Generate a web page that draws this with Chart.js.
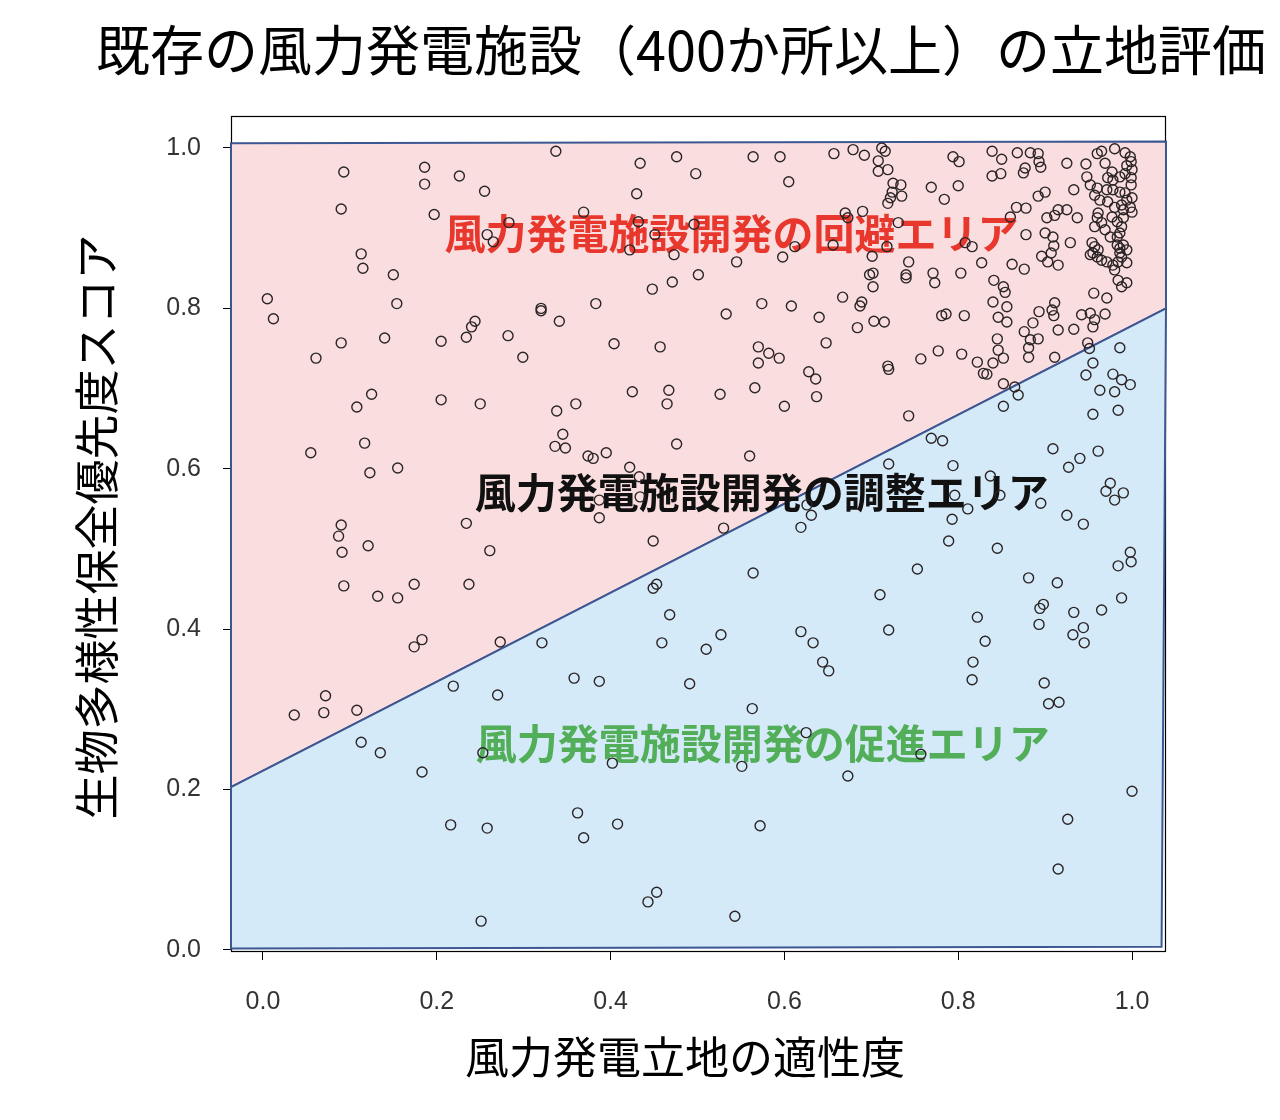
<!DOCTYPE html>
<html><head><meta charset="utf-8">
<script src="https://cdn.jsdelivr.net/npm/chart.js@4/dist/chart.umd.min.js"></script>
<style>html,body{margin:0;padding:0;background:#fff}#wrap{width:1280px;height:1120px}</style>
</head><body><div id="wrap"><canvas id="c" width="1280" height="1120"></canvas></div>
<script>
const chartTitle = '既存の風力発電施設（400か所以上）の立地評価';
const xAxisTitle = '風力発電立地の適性度';
const yAxisTitle = '生物多様性保全優先度スコア';
const tickValues = [0, 0.2, 0.4, 0.6, 0.8, 1.0];
const zoneLabels = ['風力発電施設開発の回避エリア', '風力発電施設開発の調整エリア', '風力発電施設開発の促進エリア'];

// zone polygons (data coordinates)
const avoidZoneX = [-0.0368, -0.0368, 1.0391, 1.0391, -0.0368];
const avoidZoneY = [0.203, 1.006, 1.008, 0.800, 0.203];
const promoteZoneX = [-0.0368, 1.0391, 1.034, -0.0368, -0.0368];
const promoteZoneY = [0.203, 0.800, 0.004, 0.002, 0.203];

// existing wind farms: suitability (x) and biodiversity priority (y)
const suitability = [
0.005,0.012,0.061,0.055,0.036,0.070,0.072,0.093,0.090,0.090,
0.108,0.125,0.113,0.115,0.150,0.154,0.140,0.117,0.123,0.155,
0.090,0.087,0.091,0.093,0.121,0.132,0.155,0.174,0.183,0.174,
0.108,0.113,0.135,0.183,0.186,0.186,0.197,0.205,0.205,
0.226,0.255,0.258,0.265,0.283,0.234,0.240,0.244,0.250,0.282,
0.299,0.320,0.320,0.337,0.341,0.338,0.360,0.345,0.336,0.348,
0.374,0.380,0.395,0.383,0.369,0.234,0.261,0.237,0.273,0.219,
0.270,0.253,0.321,0.387,0.387,0.216,0.258,0.251,0.358,0.387,
0.362,0.369,0.402,0.408,
0.434,0.430,0.476,0.498,0.422,0.432,0.451,0.473,0.496,0.448,
0.471,0.501,0.404,0.457,0.425,0.467,0.465,0.526,0.533,0.545,
0.564,0.595,0.605,0.574,0.608,0.570,0.582,0.594,0.570,0.566,
0.476,0.422,0.433,0.434,0.449,0.449,0.453,0.468,0.459,0.510,
0.491,0.527,0.530,0.560,0.564,0.563,0.551,0.572,0.543,0.453,
0.443,0.600,
0.657,0.679,0.692,0.712,0.716,0.708,0.708,0.719,0.725,0.734,
0.724,0.722,0.719,0.735,0.769,0.784,0.794,0.670,0.673,0.690,
0.731,0.718,0.701,0.656,0.612,0.598,0.743,0.740,0.740,0.698,
0.702,0.702,0.771,0.773,0.640,0.667,0.689,0.687,0.703,0.715,
0.684,0.781,0.786,0.648,0.628,0.636,0.719,0.720,0.757,0.777,
0.637,0.743,0.769,0.782,0.720,0.794,0.626,0.631,0.619,0.753,
0.710,0.720,0.619,0.633,0.644,0.651,0.793,0.789,0.625,0.673,
0.757,0.796,
0.801,0.839,0.850,0.868,0.883,0.892,0.893,0.895,0.877,0.875,
0.839,0.849,0.800,0.892,0.900,0.867,0.878,0.902,0.911,0.915,
0.878,0.900,0.909,0.910,0.907,0.896,0.903,0.860,0.808,0.816,
0.827,0.862,0.876,0.803,0.841,0.852,0.854,0.840,0.856,0.846,
0.856,0.807,0.893,0.886,0.876,0.883,0.892,0.881,0.881,0.845,
0.846,0.852,0.840,0.829,0.833,0.822,0.804,0.911,0.910,0.908,
0.911,0.852,0.865,0.869,0.852,
0.925,0.947,0.960,0.965,0.980,0.969,0.992,0.998,0.999,0.994,
1.000,0.992,0.977,0.972,0.978,0.986,0.999,0.999,0.948,0.952,
0.960,0.957,0.963,0.933,0.971,0.978,0.986,0.992,0.994,0.988,
0.980,0.972,1.000,0.998,1.000,0.925,0.937,0.961,0.960,0.965,
0.977,0.983,0.990,0.990,0.957,0.969,0.988,0.986,0.975,0.983,
0.929,0.954,0.957,0.961,0.955,0.960,0.965,0.971,0.952,0.983,
0.986,0.990,0.994,0.986,0.988,0.978,0.984,0.915,0.994,0.980,
0.984,0.994,0.988,0.956,0.971,0.915,0.942,0.952,0.969,0.957,
0.955,0.933,0.949,0.951,0.986,0.955,0.947,0.978,0.988,0.998,
0.963,0.980,0.955,0.984,
0.909,0.961,0.940,0.927,0.837,0.848,0.895,0.811,0.975,0.970,
0.980,0.990,0.925,0.944,0.845,0.998,0.999,0.984,0.881,0.914,
0.898,0.894,0.893,0.933,0.965,0.988,0.944,0.932,0.945,0.822,
0.831,0.817,0.816,0.899,0.904,0.916,1.000,0.926,0.915
];
const biodiversity = [
0.812,0.787,0.738,0.620,0.293,0.296,0.317,0.970,0.924,0.757,
0.677,0.693,0.868,0.850,0.842,0.806,0.763,0.632,0.595,0.601,
0.530,0.516,0.496,0.454,0.504,0.441,0.439,0.456,0.387,0.378,
0.299,0.259,0.246,0.222,0.976,0.955,0.917,0.759,0.686,
0.965,0.946,0.892,0.883,0.907,0.764,0.777,0.784,0.681,0.766,
0.739,0.800,0.797,0.996,0.784,0.672,0.681,0.643,0.628,0.626,
0.616,0.613,0.620,0.806,0.920,0.532,0.498,0.456,0.384,0.329,
0.318,0.246,0.383,0.539,0.561,0.156,0.152,0.036,0.339,0.335,
0.171,0.140,0.233,0.157,
0.981,0.943,0.989,0.968,0.873,0.908,0.892,0.867,0.905,0.824,
0.833,0.842,0.756,0.752,0.696,0.698,0.681,0.693,0.793,0.858,
0.989,0.989,0.958,0.806,0.803,0.752,0.744,0.738,0.732,0.701,
0.631,0.602,0.590,0.565,0.510,0.451,0.456,0.418,0.383,0.375,
0.332,0.393,0.526,0.616,0.470,0.301,0.229,0.155,0.042,0.072,
0.060,0.678,
0.993,0.998,0.991,1.000,0.996,0.984,0.971,0.973,0.956,0.954,
0.945,0.938,0.931,0.940,0.951,0.936,0.989,0.919,0.913,0.921,
0.907,0.877,0.865,0.879,0.877,0.864,0.858,0.842,0.838,0.842,
0.844,0.827,0.844,0.832,0.789,0.814,0.808,0.803,0.784,0.783,
0.776,0.791,0.793,0.757,0.721,0.712,0.728,0.724,0.737,0.747,
0.690,0.666,0.638,0.635,0.606,0.604,0.555,0.542,0.527,0.475,
0.443,0.399,0.397,0.383,0.359,0.348,0.537,0.510,0.271,0.217,
0.244,0.567,
0.983,0.996,0.986,0.994,0.994,0.993,0.983,0.976,0.975,0.969,
0.965,0.968,0.953,0.940,0.945,0.926,0.925,0.913,0.916,0.923,
0.892,0.894,0.889,0.878,0.869,0.865,0.858,0.914,0.882,0.877,
0.857,0.855,0.849,0.844,0.835,0.827,0.820,0.808,0.802,0.789,
0.783,0.791,0.796,0.782,0.771,0.761,0.762,0.751,0.739,0.762,
0.748,0.738,0.732,0.719,0.718,0.733,0.743,0.807,0.791,0.798,
0.739,0.706,0.702,0.692,0.678,
0.981,0.980,0.993,0.996,0.999,0.981,0.994,0.989,0.983,0.978,
0.973,0.968,0.970,0.963,0.960,0.964,0.963,0.954,0.964,0.954,
0.950,0.941,0.935,0.948,0.948,0.948,0.945,0.944,0.935,0.929,
0.926,0.933,0.938,0.926,0.920,0.923,0.913,0.919,0.913,0.907,
0.914,0.908,0.913,0.923,0.902,0.898,0.902,0.894,0.889,0.889,
0.882,0.882,0.877,0.873,0.869,0.864,0.860,0.858,0.867,0.879,
0.875,0.879,0.873,0.869,0.864,0.854,0.858,0.854,0.857,0.848,
0.835,0.832,0.827,0.819,0.813,0.773,0.792,0.794,0.793,0.786,
0.777,0.774,0.757,0.750,0.751,0.732,0.717,0.718,0.711,0.705,
0.698,0.696,0.668,0.673,
0.625,0.622,0.613,0.602,0.591,0.567,0.557,0.550,0.582,0.572,
0.561,0.570,0.542,0.531,0.501,0.496,0.484,0.479,0.464,0.458,
0.431,0.426,0.406,0.421,0.424,0.439,0.402,0.393,0.383,0.415,
0.385,0.359,0.337,0.333,0.307,0.309,0.198,0.163,0.101
];

const X_MIN = -0.0368, X_MAX = 1.0391, Y_MIN = -0.0025, Y_MAX = 1.0399;
const CJK = "'Noto Sans CJK JP', 'Noto Sans', sans-serif";

const decor = {
  id: 'decor',
  beforeDatasetsDraw(chart) {
    const {ctx, chartArea: a} = chart;
    ctx.save();
    ctx.strokeStyle = '#000';
    ctx.lineWidth = 1.2;
    ctx.strokeRect(a.left + 0.5, a.top + 0.5, a.right - a.left - 1, a.bottom - a.top - 1);
    ctx.restore();
  },
  beforeDatasetDraw(chart, args) {
    if (args.index !== 0) return;
    const {ctx, scales} = chart;
    const anchors = [[0.539, 0.894, '#e8372d'], [0.574, 0.570, '#111111'], [0.575, 0.258, '#52ae58']];
    ctx.save();
    ctx.font = "bold 41px " + CJK;
    ctx.textAlign = 'center';
    ctx.textBaseline = 'middle';
    anchors.forEach((p, i) => {
      ctx.fillStyle = p[2];
      ctx.fillText(zoneLabels[i], scales.x.getPixelForValue(p[0]), scales.y.getPixelForValue(p[1]));
    });
    ctx.restore();
  },
  afterDraw(chart) {
    const {ctx} = chart;
    ctx.save();
    ctx.fillStyle = '#000';
    ctx.textAlign = 'center';
    ctx.textBaseline = 'middle';
    ctx.font = "400 54px " + CJK;
    ctx.fillText(chartTitle, 681, 50);
    ctx.font = "400 44px " + CJK;
    ctx.fillText(xAxisTitle, 685, 1057);
    ctx.font = "400 45px " + CJK;
    ctx.translate(97, 527);
    ctx.rotate(-Math.PI / 2);
    ctx.fillText(yAxisTitle, 0, 0);
    ctx.restore();
  }
};

const tickFont = {family: "'Liberation Sans', Arial, sans-serif", size: 25};
const axisBase = (min, max) => ({
  type: 'linear', min, max,
  afterBuildTicks(s) { s.ticks = tickValues.map(v => ({value: v})); },
  ticks: {callback: v => Number(v).toFixed(1), font: tickFont, color: '#333', autoSkip: false, maxRotation: 0},
  grid: {drawOnChartArea: false, drawTicks: true, tickLength: 8, color: '#000', lineWidth: 1},
  border: {display: false}
});

const xAxis = axisBase(X_MIN, X_MAX);
xAxis.afterFit = s => { s.height = 168; };
xAxis.ticks.padding = 27;
const yAxis = axisBase(Y_MIN, Y_MAX);
yAxis.afterFit = s => { s.width = 231; };
yAxis.ticks.padding = 22;

new Chart(document.getElementById('c'), {
  type: 'scatter',
  data: {
    datasets: [
      {
        label: 'points',
        data: suitability.map((x, i) => ({x, y: biodiversity[i]})),
        pointRadius: 5,
        pointBorderWidth: 1.4,
        pointBorderColor: '#2a2426',
        pointBackgroundColor: 'rgba(0,0,0,0)',
        order: 0
      },
      {
        label: 'promote',
        data: promoteZoneX.map((x, i) => ({x, y: promoteZoneY[i]})),
        showLine: true, fill: 'shape', tension: 0,
        backgroundColor: '#d5eaf8', borderColor: '#3c5792', borderWidth: 2,
        pointRadius: 0, clip: 4, order: 1
      },
      {
        label: 'avoid',
        data: avoidZoneX.map((x, i) => ({x, y: avoidZoneY[i]})),
        showLine: true, fill: 'shape', tension: 0,
        backgroundColor: '#fadedf', borderColor: '#3c5792', borderWidth: 2,
        pointRadius: 0, clip: 4, order: 2
      }
    ]
  },
  options: {
    responsive: false, animation: false, devicePixelRatio: 1,
    layout: {padding: {left: 0, top: 116, right: 114, bottom: 0}},
    plugins: {legend: {display: false}, tooltip: {enabled: false}, title: {display: false}},
    scales: {x: xAxis, y: yAxis}
  },
  plugins: [decor]
});
</script>
</body></html>
